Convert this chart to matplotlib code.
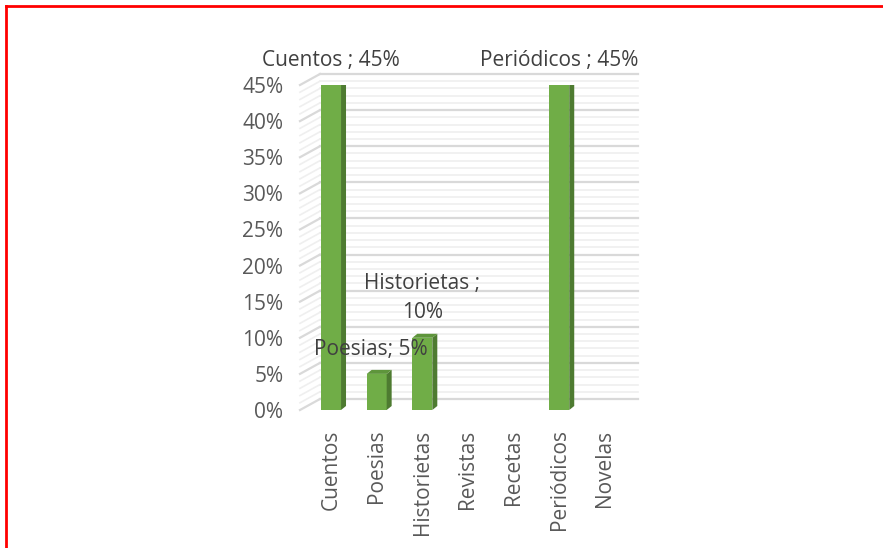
import numpy as np
import matplotlib.pyplot as plt
from matplotlib.patches import Polygon
from matplotlib.lines import Line2D

categorias = ['Cuentos', 'Poesias', 'Historietas', 'Revistas', 'Recetas', 'Periódicos', 'Novelas']
valores = [0.45, 0.05, 0.10, 0.0, 0.0, 0.45, 0.0]
etiquetas = ['Cuentos ; 45%', 'Poesias; 5%', 'Historietas ;\n10%', '', '', 'Periódicos ; 45%', '']
yticks = [0.0, 0.05, 0.10, 0.15, 0.20, 0.25, 0.30, 0.35, 0.40, 0.45]

plt.rcParams['font.family'] = ['Open Sans', 'DejaVu Sans']
gris = '#595959'
fs = 15

fig = plt.figure(figsize=(8.83, 5.48), dpi=100)
ax = fig.add_axes([300/883, 138/548, 330/883, 325/548])
ax.set_xlim(-0.68, 6.55)
ax.set_ylim(0, 0.45)
for s in ax.spines.values():
    s.set_visible(False)

# profundidad del efecto 3D (en unidades de datos)
px_x = 45.7
px_y = 325 / 0.45
wall_dx = 20 / px_x
wall_dy = 11 / px_y

# rejilla: pared lateral y pared de fondo
x0, x1 = -0.68, 6.72
for v in np.arange(0, 0.4501, 0.01):
    mayor = abs(v / 0.05 - round(v / 0.05)) < 1e-6
    c = '#d9d9d9' if mayor else '#efefef'
    lw = 1.6 if mayor else 1.2
    ax.plot([x0, x0 + wall_dx], [v, v + wall_dy], color=c, lw=lw, clip_on=False, zorder=1)
    ax.plot([x0 + wall_dx, x1], [v + wall_dy, v + wall_dy], color=c, lw=lw, clip_on=False, zorder=1)

# barras con caras laterales y superiores
ancho = 20 / px_x
side_dx = 5 / px_x
side_dy = 4 / px_y
x = np.arange(len(categorias))
ax.bar(x, valores, width=ancho, color='#70AD47', zorder=3)
for xi, v in zip(x, valores):
    if v <= 0:
        continue
    l, r = xi - ancho / 2, xi + ancho / 2
    side = Polygon([(r, 0), (r + side_dx, side_dy), (r + side_dx, v + side_dy), (r, v)],
                   closed=True, facecolor='#4E7B31', edgecolor='none', zorder=3)
    top = Polygon([(l, v), (l + side_dx, v + side_dy), (r + side_dx, v + side_dy), (r, v)],
                  closed=True, facecolor='#5E953B', edgecolor='none', zorder=3)
    ax.add_patch(side)
    ax.add_patch(top)

# etiquetas de datos
for xi, v, t in zip(x, valores, etiquetas):
    if not t:
        continue
    if '\n' in t:
        ax.annotate(t, (xi, v), xytext=(0, 11), textcoords='offset points',
                    ha='center', va='bottom', fontsize=fs, color='#404040',
                    linespacing=1.45, zorder=5)
    elif v < 0.1:
        ax.annotate(t, (xi, v), xytext=(-4, 10), textcoords='offset points',
                    ha='center', va='bottom', fontsize=fs, color='#404040', zorder=5)
    else:
        ax.annotate(t, (xi, v), xytext=(0, 10), textcoords='offset points',
                    ha='center', va='bottom', fontsize=fs, color='#404040', zorder=5)

ax.set_yticks(yticks)
ax.set_yticklabels([f'{int(round(t * 100))}%' for t in yticks])
ax.set_xticks(x)
ax.set_xticklabels(categorias, rotation=90)
ax.tick_params(axis='y', length=0, pad=12, labelsize=fs, labelcolor=gris)
ax.tick_params(axis='x', length=0, pad=14, labelsize=fs, labelcolor=gris)

# borde rojo
fig.add_artist(Line2D([6/883, 6/883], [0, 1 - 6/548], color='red', lw=2))
fig.add_artist(Line2D([6/883, 1], [1 - 6/548, 1 - 6/548], color='red', lw=2))

fig.savefig('out.png', dpi=100)
